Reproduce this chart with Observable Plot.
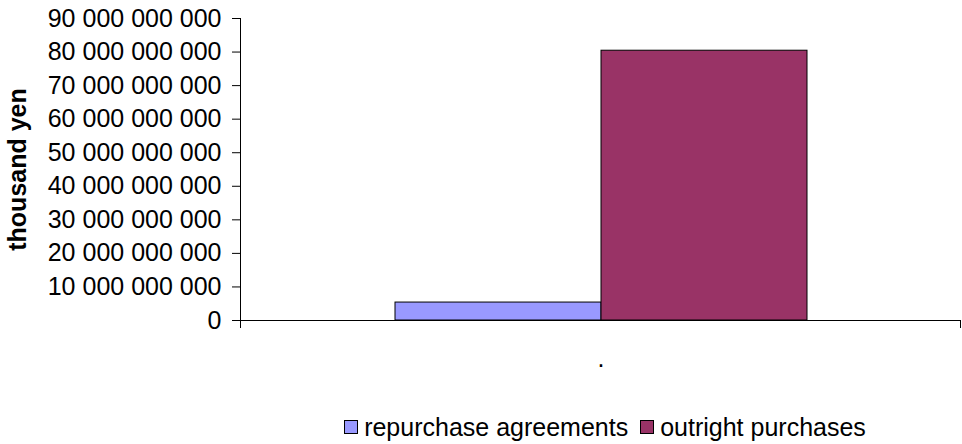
<!DOCTYPE html>
<html>
<head>
<meta charset="utf-8">
<script src="https://cdn.jsdelivr.net/npm/d3@7"></script>
<script src="https://cdn.jsdelivr.net/npm/@observablehq/plot@0.6"></script>
<style>
  body { margin: 0; background: #fff; font-family: "Liberation Sans", Arial, sans-serif; }
  #chart { width: 962px; }
  #chart svg { display: block; }
  .legend { display: flex; justify-content: center; align-items: center; width: 962px; box-sizing: border-box;
            padding-left: 248px; margin-top: 7px; height: 30px; font-size: 25px; color: #000; }
  .legend .item { display: flex; align-items: center; margin: 0 6px; }
  .legend .swatch { width: 12px; height: 12px; border: 1px solid #000; margin-right: 6px; }
</style>
</head>
<body>
<div id="chart"></div>
<script>
// Operations by type, in thousand yen
const categories = ["."];
const seriesNames = ["repurchase agreements", "outright purchases"];
const seriesValues = [5.35e9, 80.4e9];
const seriesColors = ["#9999FF", "#993366"];
const yTicks = [0, 10e9, 20e9, 30e9, 40e9, 50e9, 60e9, 70e9, 80e9, 90e9];

const rows = seriesNames.map((name, i) => ({category: categories[0], series: name, value: seriesValues[i]}));
const spaced = d => d3.format(",")(d).replace(/,/g, " ");

// short downward ticks at both ends of the category axis
function categoryEdgeTicks(index, scales, values, dims) {
  const y0 = dims.height - dims.marginBottom;
  const g = d3.create("svg:g").attr("stroke", "#000").attr("stroke-width", 1);
  for (const x of [dims.marginLeft + 0.5, dims.width - dims.marginRight - 0.5]) {
    g.append("line").attr("x1", x).attr("x2", x).attr("y1", y0).attr("y2", y0 + 8);
  }
  return g.node();
}

const chart = Plot.plot({
  width: 962,
  height: 405,
  marginTop: 18,
  marginBottom: 85,
  marginLeft: 240,
  marginRight: 1,
  style: {fontFamily: "'Liberation Sans', Arial, sans-serif", fontSize: "25px", color: "#000", background: "#fff"},
  x: {domain: seriesNames, paddingInner: 0, paddingOuter: 0.746, axis: null},
  y: {domain: [0, 90e9], axis: null},
  color: {domain: seriesNames, range: seriesColors},
  marks: [
    Plot.barY(rows, {x: "series", y: "value", fill: "series", stroke: "#000", strokeWidth: 1}),
    Plot.axisY({ticks: yTicks, tickFormat: spaced, tickSize: 8, tickPadding: 11, fontSize: 25, label: null}),
    Plot.frame({anchor: "left"}),
    Plot.ruleY([0]),
    categoryEdgeTicks,
    Plot.text(categories, {text: d => d, frameAnchor: "bottom", dy: 46, fontSize: 25}),
    Plot.text(["thousand yen"], {text: d => d, frameAnchor: "left", textAnchor: "middle", dx: -223, rotate: -90, fontSize: 25, fontWeight: "bold"})
  ]
});
document.getElementById("chart").appendChild(chart);

const legend = d3.select("#chart").append("div").attr("class", "legend");
seriesNames.forEach((name, i) => {
  const item = legend.append("div").attr("class", "item");
  item.append("div").attr("class", "swatch").style("background", seriesColors[i]);
  item.append("span").text(name);
});
</script>
</body>
</html>
